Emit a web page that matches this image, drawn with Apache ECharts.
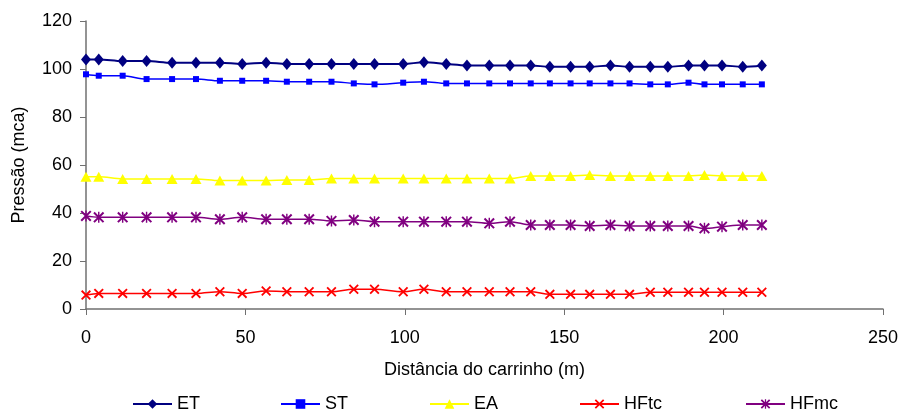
<!DOCTYPE html>
<html>
<head>
<meta charset="utf-8">
<script src="https://cdn.jsdelivr.net/npm/echarts@6/dist/echarts.min.js"></script>
<style>
  html, body { margin: 0; padding: 0; background: #fff; }
  #chart { width: 903px; height: 412px; }
</style>
</head>
<body>
<div id="chart"></div>
<script>
// Distância do carrinho (m) em cada ponto de medição
var distancia = [0, 4, 11.5, 19, 27, 34.5, 42, 49, 56.5, 63, 70, 77, 84, 90.5, 99.5, 106,
                 113, 119.5, 126.5, 133, 139.5, 145.5, 152, 158, 164.5, 170.5, 177, 182.5,
                 189, 194, 199.5, 206, 212];

// Pressões medidas (mca)
var ET = [104.0, 104.0, 103.3, 103.3, 102.6, 102.6, 102.6, 102.1, 102.6, 102.1, 102.1, 102.1,
          102.1, 102.1, 102.1, 102.8, 102.1, 101.5, 101.5, 101.5, 101.5, 100.9, 100.9, 100.9,
          101.5, 100.9, 100.9, 100.9, 101.5, 101.5, 101.5, 100.9, 101.5];
var ST = [97.8, 97.2, 97.2, 95.8, 95.8, 95.8, 95.1, 95.1, 95.1, 94.7, 94.7, 94.7,
          94.0, 93.6, 94.3, 94.7, 94.0, 94.0, 94.0, 94.0, 94.0, 94.0, 94.0, 94.0,
          94.0, 94.0, 93.6, 93.6, 94.3, 93.6, 93.6, 93.6, 93.6];
var EA = [55.1, 55.1, 54.2, 54.2, 54.2, 54.2, 53.5, 53.5, 53.5, 53.8, 53.8, 54.4,
          54.4, 54.4, 54.4, 54.4, 54.4, 54.4, 54.4, 54.4, 55.4, 55.4, 55.4, 55.8,
          55.4, 55.4, 55.4, 55.4, 55.4, 55.8, 55.4, 55.4, 55.4];
var HFtc = [5.8, 6.5, 6.5, 6.5, 6.5, 6.5, 7.2, 6.5, 7.5, 7.2, 7.2, 7.2,
            8.2, 8.2, 7.2, 8.2, 7.2, 7.2, 7.2, 7.2, 7.2, 6.1, 6.1, 6.1,
            6.1, 6.1, 7.0, 7.0, 7.0, 7.0, 7.0, 7.0, 7.0];
var HFmc = [38.8, 38.2, 38.2, 38.2, 38.2, 38.2, 37.4, 38.2, 37.4, 37.4, 37.4, 36.7,
            37.1, 36.4, 36.4, 36.4, 36.4, 36.4, 35.7, 36.4, 35.0, 35.0, 35.0, 34.6,
            35.0, 34.6, 34.6, 34.6, 34.6, 33.6, 34.3, 35.0, 35.0];

var nomes = ['ET', 'ST', 'EA', 'HFtc', 'HFmc'];
var valores = [ET, ST, EA, HFtc, HFmc];

// Marker shapes: X and asterisk drawn as filled outlines
var xPath = 'path://M0,1.3L1.3,0L10,8.7L8.7,10Z M8.7,0L10,1.3L1.3,10L0,8.7Z';
var astPath = 'path://M0,1.3L1.3,0L10,8.7L8.7,10Z M8.7,0L10,1.3L1.3,10L0,8.7Z M4.35,0L5.65,0L5.65,10L4.35,10Z';

var estilos = {
  ET:   { color: '#000080', symbol: 'diamond',  size: [10, 12], width: 2 },
  ST:   { color: '#0000FF', symbol: 'rect',     size: 6,        width: 1.5 },
  EA:   { color: '#FFFF00', symbol: 'triangle', size: [11, 10], width: 1.5 },
  HFtc: { color: '#FF0000', symbol: xPath,      size: 10,       width: 1.5 },
  HFmc: { color: '#800080', symbol: astPath,    size: 11,       width: 1.5 }
};

var series = nomes.map(function (nome, k) {
  var s = estilos[nome];
  return {
    name: nome,
    type: 'line',
    smooth: 0.35,
    data: distancia.map(function (d, i) { return [d, valores[k][i]]; }),
    symbol: s.symbol,
    symbolSize: s.size,
    showAllSymbol: true,
    itemStyle: { color: s.color },
    lineStyle: { color: s.color, width: s.width },
    emphasis: { disabled: true },
    animation: false
  };
});

var legendLeft = [132, 280, 429, 579, 745];
var legends = nomes.map(function (nome, k) {
  return {
    data: [nome],
    left: legendLeft[k],
    top: 395,
    padding: 0,
    itemWidth: 39,
    itemHeight: 12,
    itemGap: 5,
    selectedMode: false,
    textStyle: { fontFamily: 'Liberation Sans, Arial', fontSize: 18, color: '#000', padding: [0, 0, 0, 0] }
  };
});

var chart = echarts.init(document.getElementById('chart'), null, { renderer: 'canvas' });
chart.setOption({
  backgroundColor: '#ffffff',
  animation: false,
  textStyle: { fontFamily: 'Liberation Sans, Arial' },
  grid: { left: 86, right: 20, top: 21, bottom: 103, containLabel: false },
  legend: legends,
  xAxis: {
    type: 'value',
    min: 0, max: 250, interval: 50,
    name: 'Distância do carrinho (m)',
    nameLocation: 'middle',
    nameGap: 52,
    nameTextStyle: { fontSize: 18, color: '#000', fontFamily: 'Liberation Sans, Arial' },
    axisLine: { lineStyle: { color: '#707070', width: 1.5 } },
    axisTick: { show: true, length: 6, lineStyle: { color: '#707070' } },
    axisLabel: { fontSize: 18, color: '#000', margin: 20 },
    splitLine: { show: false }
  },
  yAxis: {
    type: 'value',
    min: 0, max: 120, interval: 20,
    name: 'Pressão (mca)',
    nameLocation: 'middle',
    nameGap: 58,
    nameRotate: 90,
    nameTextStyle: { fontSize: 18, color: '#000', fontFamily: 'Liberation Sans, Arial' },
    axisLine: { show: true, lineStyle: { color: '#707070', width: 1.5 } },
    axisTick: { show: true, length: 6, lineStyle: { color: '#707070' } },
    axisLabel: { fontSize: 18, color: '#000', margin: 14 },
    splitLine: { show: false }
  },
  series: series
});
</script>
</body>
</html>
